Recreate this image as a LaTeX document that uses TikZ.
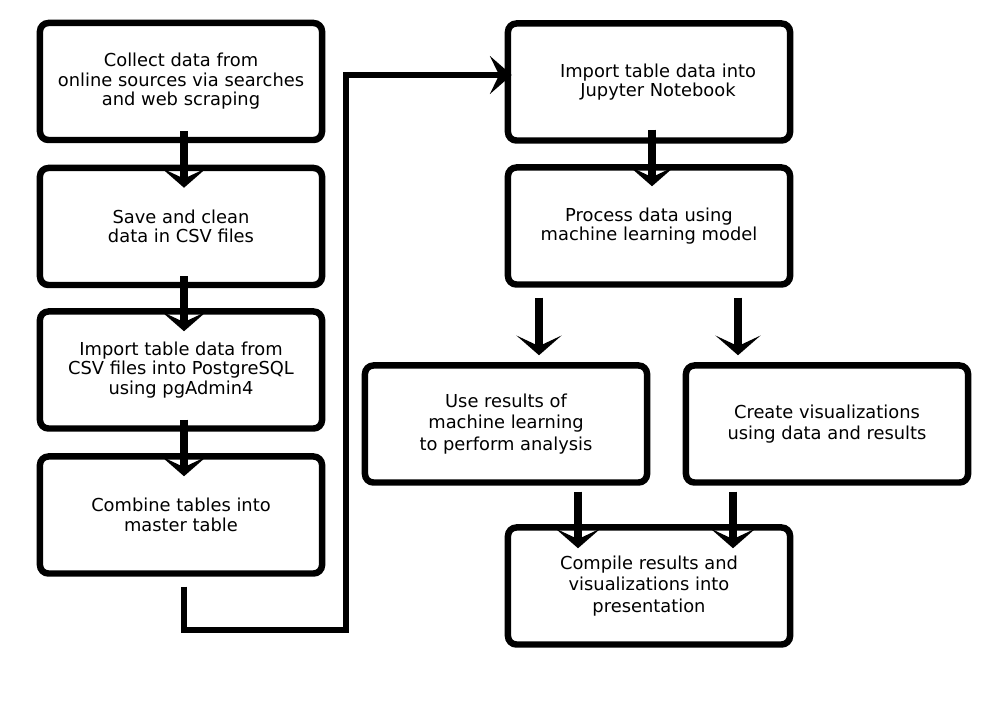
\documentclass[tikz,border=0pt]{standalone}
\usepackage{fontspec}
\setmainfont{DejaVu Sans}
\usetikzlibrary{arrows.meta}

\begin{document}
\begin{tikzpicture}[x=0.025cm, y=-0.025cm,
  box/.style={draw, line width=4.6pt, rounded corners=6pt, minimum width=7.05cm,
    minimum height=2.925cm, align=center, inner sep=0pt,
    font=\fontsize{12.7}{13.9}\selectfont},
  loose/.style={font=\fontsize{12.7}{15.1}\selectfont},
  flow/.style={line width=5.2pt, -{Stealth[length=14pt, width=32pt, inset=7.5pt]}},
  link/.style={line width=3.6pt, -{Stealth[length=15.5pt, width=27pt, inset=6.5pt]}}]
\useasboundingbox (0,0) rectangle (1008,720);

% left column
\node[box] (collect) at (181,81.5) {Collect data from\\online sources via searches\\and web scraping};
\node[box] (clean) at (181,226.5) {Save and clean\\data in CSV files};
\node[box] (import) at (181,370) {Import table data from\\CSV files into PostgreSQL\\using pgAdmin4};
\node[box] (combine) at (181,515) {Combine tables into\\master table};

% right column
\node[box] (jupyter) at (649,82) {\hspace*{0.45cm}Import table data into\\\hspace*{0.45cm}Jupyter Notebook};
\node[box] (model) at (649,226) {Process data using\\machine learning model};
\node[box, loose] (analysis) at (506,424) {Use results of\\machine learning\\to perform analysis};
\node[box, loose] (visual) at (827,424) {Create visualizations\\using data and results};
\node[box, loose] (present) at (649,586) {Compile results and\\visualizations into\\presentation};

% arrows down the left column
\draw[flow] ([shift={(3,-12)}]collect.south) -- ([shift={(3,23)}]clean.north);
\draw[flow] ([shift={(3,-12)}]clean.south) -- ([shift={(3,23)}]import.north);
\draw[flow] ([shift={(3,-12)}]import.south) -- ([shift={(3,23)}]combine.north);

% link over to the right column
\coordinate (low) at (346,630);
\coordinate (top) at (346,75);
\draw[link] ([shift={(3,10)}]combine.south) |- (low) -- (top) -- ([shift={(7,-7)}]jupyter.west);

% arrows on the right
\draw[flow] ([shift={(3,-14)}]jupyter.south) -- ([shift={(3,22)}]model.north);
\draw[flow] ([shift={(-110,10)}]model.south) -- ([shift={(33,-7)}]analysis.north);
\draw[flow] ([shift={(89,10)}]model.south) -- ([shift={(-89,-7)}]visual.north);
\draw[flow] ([shift={(72,6)}]analysis.south) -- ([shift={(-71,24)}]present.north);
\draw[flow] ([shift={(-94,6)}]visual.south) -- ([shift={(84,24)}]present.north);
\end{tikzpicture}
\end{document}
